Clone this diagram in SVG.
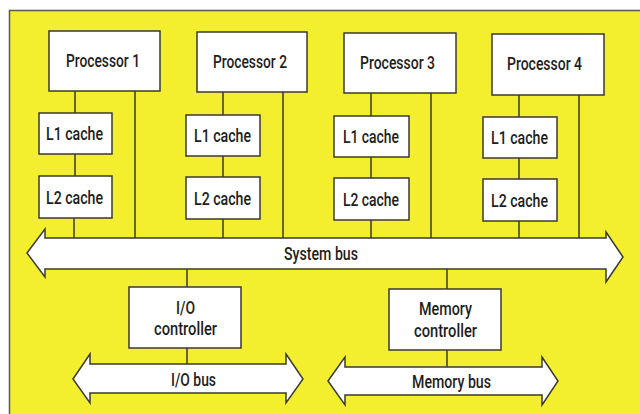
<svg xmlns="http://www.w3.org/2000/svg" width="640" height="414" viewBox="0 0 640 414">
<style>
.box{fill:#fff;stroke:#3a3a30;stroke-width:1.5}
.bus{fill:#fff;stroke:#3a3a30;stroke-width:1.5;stroke-linejoin:miter}
.ln{stroke:#3a3a30;stroke-width:1.5;fill:none}
text{font-family:Roboto,"Liberation Sans",sans-serif;font-weight:500;font-size:19px;fill:#1e1e1e;text-anchor:middle}
</style>
<rect x="0" y="0" width="640" height="414" fill="#ffffff"/>
<rect x="9.5" y="10.5" width="640" height="410" fill="#f3ef2e" stroke="#5a5a40" stroke-width="1.5"/>
<g id="connectors">
<path class="ln" d="M75 91V113M75 154V176M74 218V238M135 91V238"/>
<path class="ln" d="M223 92V115M223 156V177M223 219V238M283 92V238"/>
<path class="ln" d="M371 93V116M371 157V178M371 220V238M431 93V238"/>
<path class="ln" d="M519 95V117M519 158V179M519 221V238M579 95V238"/>
<path class="ln" d="M187 269V287M187 348V364"/>
<path class="ln" d="M447 269V289M447 350V367"/>
</g>
<g id="system-bus">
<path class="bus" d="M27 253L45 229V238H606V232L623 257L606 282V269H45V277Z"/>
<text x="321" y="260" textLength="74" lengthAdjust="spacingAndGlyphs">System bus</text>
</g>
<g id="processor1"><rect class="box" x="49" y="31" width="111" height="60"/><text x="103" y="67" textLength="74" lengthAdjust="spacingAndGlyphs">Processor 1</text></g>
<g id="processor2"><rect class="box" x="197" y="32" width="110" height="60"/><text x="250" y="68" textLength="74" lengthAdjust="spacingAndGlyphs">Processor 2</text></g>
<g id="processor3"><rect class="box" x="344" y="33" width="112" height="60"/><text x="397.5" y="69" textLength="75" lengthAdjust="spacingAndGlyphs">Processor 3</text></g>
<g id="processor4"><rect class="box" x="492" y="34" width="112" height="61"/><text x="544.5" y="70" textLength="75" lengthAdjust="spacingAndGlyphs">Processor 4</text></g>
<g id="l1-1"><rect class="box" x="39" y="113" width="73" height="41"/><text x="74.5" y="140" textLength="57" lengthAdjust="spacingAndGlyphs">L1 cache</text></g>
<g id="l1-2"><rect class="box" x="186" y="115" width="74" height="41"/><text x="222.5" y="142" textLength="57" lengthAdjust="spacingAndGlyphs">L1 cache</text></g>
<g id="l1-3"><rect class="box" x="334" y="116" width="75" height="41"/><text x="371" y="143" textLength="56" lengthAdjust="spacingAndGlyphs">L1 cache</text></g>
<g id="l1-4"><rect class="box" x="483" y="117" width="74" height="41"/><text x="519.5" y="144" textLength="57" lengthAdjust="spacingAndGlyphs">L1 cache</text></g>
<g id="l2-1"><rect class="box" x="39" y="176" width="73" height="42"/><text x="74.5" y="204" textLength="57" lengthAdjust="spacingAndGlyphs">L2 cache</text></g>
<g id="l2-2"><rect class="box" x="186" y="177" width="74" height="42"/><text x="222.5" y="205" textLength="57" lengthAdjust="spacingAndGlyphs">L2 cache</text></g>
<g id="l2-3"><rect class="box" x="334" y="178" width="75" height="42"/><text x="371" y="206" textLength="56" lengthAdjust="spacingAndGlyphs">L2 cache</text></g>
<g id="l2-4"><rect class="box" x="483" y="179" width="74" height="42"/><text x="519.5" y="207" textLength="57" lengthAdjust="spacingAndGlyphs">L2 cache</text></g>
<g id="io-controller"><rect class="box" x="129" y="287" width="112" height="61"/><text x="185.5" y="314" textLength="19" lengthAdjust="spacingAndGlyphs">I/O</text><text x="185.5" y="335" textLength="63" lengthAdjust="spacingAndGlyphs">controller</text></g>
<g id="memory-controller"><rect class="box" x="389" y="289" width="112" height="61"/><text x="445.5" y="315" textLength="53" lengthAdjust="spacingAndGlyphs">Memory</text><text x="445.5" y="337" textLength="63" lengthAdjust="spacingAndGlyphs">controller</text></g>
<g id="io-bus">
<path class="bus" d="M73 379L90 354V364H286V354L303 379L286 403V393H90V403Z"/>
<text x="193.5" y="386" textLength="45" lengthAdjust="spacingAndGlyphs">I/O bus</text>
</g>
<g id="memory-bus">
<path class="bus" d="M328 381L345 357V367H542V357L558 381L542 405V395H345V405Z"/>
<text x="451.5" y="388" textLength="79" lengthAdjust="spacingAndGlyphs">Memory bus</text>
</g>
</svg>
